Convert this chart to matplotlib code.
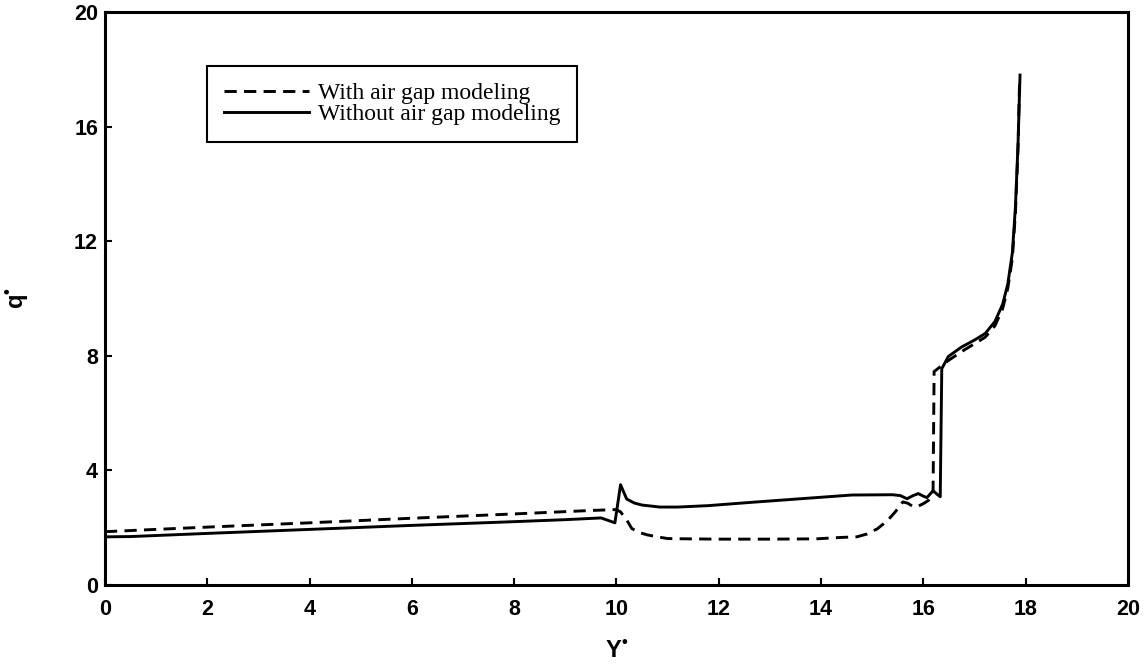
import numpy as np
import matplotlib
matplotlib.use("Agg")
import matplotlib.pyplot as plt

plt.rcParams['mathtext.fontset'] = 'custom'
plt.rcParams['mathtext.bf'] = 'Liberation Sans:bold'
plt.rcParams['mathtext.rm'] = 'Liberation Sans:bold'

# with air gap modeling (dashed)
x_gap = [0, 2, 4, 6, 8, 9.5, 9.95, 10.0, 10.08, 10.2, 10.3, 10.45, 10.6, 10.8, 11.0,
         11.4, 12, 13, 13.9, 14.4, 14.7, 14.9, 15.1, 15.3, 15.45, 15.6, 15.7, 15.8,
         15.9, 16.0, 16.1, 16.19, 16.21, 16.5, 16.75, 17.0, 17.21, 17.4, 17.55, 17.65,
         17.74, 17.8, 17.85, 17.88]
y_gap = [1.86, 2.02, 2.17, 2.33, 2.48, 2.6, 2.63, 2.63, 2.55, 2.27, 1.97, 1.83, 1.75,
         1.68, 1.62, 1.61, 1.6, 1.6, 1.61, 1.66, 1.68, 1.78, 1.96, 2.25, 2.55, 2.9,
         2.85, 2.73, 2.75, 2.84, 2.95, 3.3, 7.45, 7.85, 8.15, 8.42, 8.65, 9.05, 9.65,
         10.35, 11.4, 13.0, 15.2, 17.5]

# without air gap modeling (solid)
x_nogap = [0, 0.5, 2, 4, 6, 8, 9.0, 9.7, 9.97, 10.08, 10.2, 10.35, 10.5, 10.85, 11.2,
           11.8, 12.6, 13.6, 14.6, 15.4, 15.55, 15.68, 15.8, 15.9, 16.0, 16.07, 16.19,
           16.28, 16.33, 16.36, 16.49, 16.75, 17.0, 17.21, 17.4, 17.55, 17.65, 17.74,
           17.8, 17.85, 17.89]
y_nogap = [1.68, 1.69, 1.80, 1.94, 2.08, 2.21, 2.28, 2.34, 2.17, 3.5, 3.0, 2.86, 2.79,
           2.72, 2.72, 2.77, 2.88, 3.01, 3.14, 3.15, 3.12, 3.01, 3.12, 3.19, 3.1, 3.05,
           3.29, 3.15, 3.08, 7.55, 7.98, 8.31, 8.55, 8.78, 9.2, 9.8, 10.5, 11.6, 13.2,
           15.35, 17.8]

xticks = np.arange(0, 21, 2)
yticks = np.arange(0, 21, 4)

fig = plt.figure(figsize=(11.47, 6.69), dpi=100)
ax = fig.add_axes([0.0915, 0.1256, 0.8919, 0.8564])

ax.plot(x_gap, y_gap, 'k', ls=(0, (4.2, 2.5)), lw=2.1, label='With air gap modeling')
ax.plot(x_nogap, y_nogap, 'k-', lw=2.1, label='Without air gap modeling')

ax.set_xlim(0, 20)
ax.set_ylim(0, 20)
ax.set_xticks(xticks)
ax.set_yticks(yticks)
ax.tick_params(direction='in', length=5, width=1.5, labelsize=15.5, pad=10)
ax.tick_params(axis='y', pad=5)
for lab in ax.get_xticklabels() + ax.get_yticklabels():
    lab.set_fontfamily('Liberation Sans')
    lab.set_fontweight('bold')
for sp in ax.spines.values():
    sp.set_linewidth(2.2)

ax.set_xlabel('Y$^{\u2022}$', fontsize=17, fontweight='bold', family='Liberation Sans', labelpad=15)
ax.set_ylabel('q$^{\u2022}$', fontsize=17, fontweight='bold', family='Liberation Sans', labelpad=30)

leg = ax.legend(loc='upper left', bbox_to_anchor=(0.1, 0.906), borderaxespad=0,
                prop={'family': 'Liberation Serif', 'size': 17},
                handlelength=3.6, handletextpad=0.4, labelspacing=0.0, borderpad=0.7,
                fancybox=False, framealpha=1, edgecolor='k')
leg.get_frame().set_linewidth(1.5)

fig.savefig('out.png', dpi=100)
